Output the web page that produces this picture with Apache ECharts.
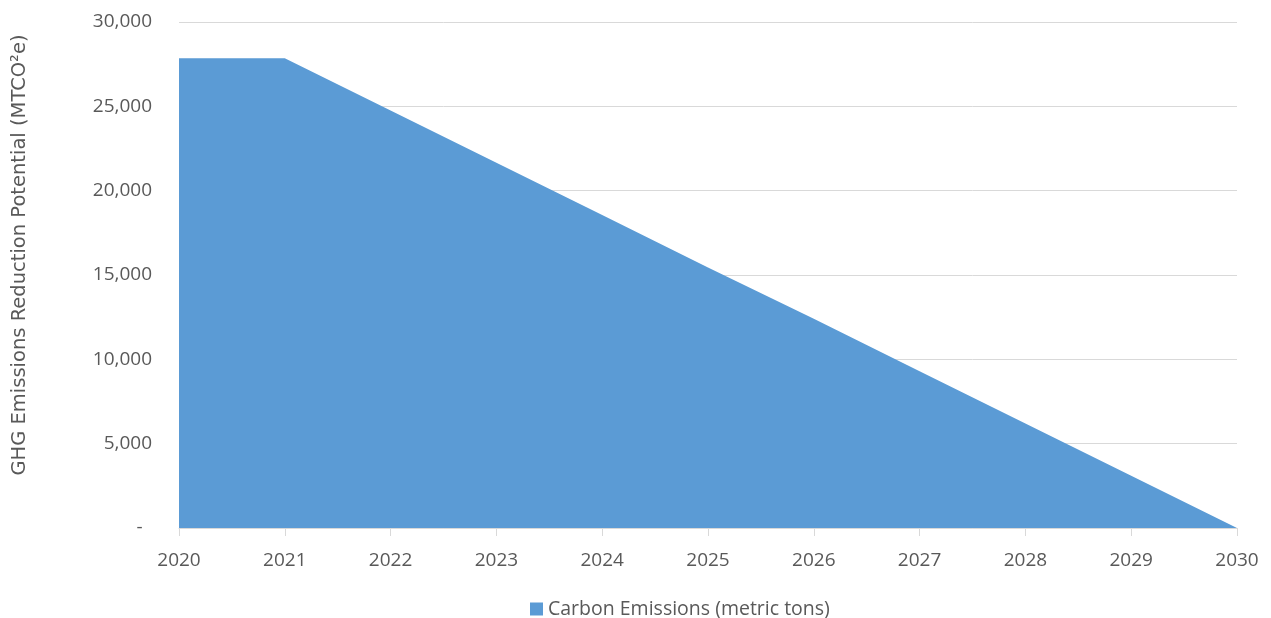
<!DOCTYPE html>
<html>
<head>
<meta charset="utf-8">
<script src="https://cdn.jsdelivr.net/npm/echarts@6/dist/echarts.min.js"></script>
<style>
html,body{margin:0;padding:0;background:#fff;}
#chart{width:1271px;height:618px;}
</style>
</head>
<body>
<div id="chart"></div>
<script>
const years = ['2020','2021','2022','2023','2024','2025','2026','2027','2028','2029','2030'];
const carbonEmissions = [27850, 27850, 24750, 21650, 18550, 15450, 12400, 9300, 6200, 3100, 0];
const seriesName = 'Carbon Emissions (metric tons)';
const yAxisTitle = 'GHG Emissions Reduction Potential (MTCO\u00B2e)';

const chart = echarts.init(document.getElementById('chart'), null, {renderer: 'canvas'});
chart.setOption({
  animation: false,
  backgroundColor: '#ffffff',
  grid: {left: 179, right: 34, top: 22, bottom: 90, containLabel: false},
  legend: {
    top: 594,
    left: 525,
    itemWidth: 13,
    itemHeight: 13,
    itemGap: 6,
    icon: 'rect',
    textStyle: {fontFamily: 'Open Sans', fontSize: 19.5, color: '#595959'},
    data: [seriesName]
  },
  graphic: [{
    type: 'text',
    x: 20,
    y: 255,
    rotation: Math.PI / 2,
    style: {
      text: yAxisTitle,
      fontFamily: 'DejaVu Sans',
      fontSize: 19.5,
      fill: '#595959',
      align: 'center',
      verticalAlign: 'middle'
    }
  }],
  xAxis: {
    type: 'category',
    data: years,
    boundaryGap: false,
    axisLine: {lineStyle: {color: '#d9d9d9', width: 1}},
    axisTick: {show: true, alignWithLabel: true, length: 8, lineStyle: {color: '#d9d9d9'}},
    axisLabel: {fontFamily: 'Open Sans', fontSize: 19, color: '#595959', margin: 23},
    splitLine: {show: false}
  },
  yAxis: {
    type: 'value',
    min: 0,
    max: 30000,
    interval: 5000,
    axisLine: {show: false},
    axisTick: {show: false},
    axisLabel: {
      fontFamily: 'Open Sans', fontSize: 19, color: '#595959', margin: 27,
      formatter: function (v) { return v === 0 ? '-\u2002' : v.toLocaleString('en-US'); }
    },
    splitLine: {lineStyle: {color: '#d9d9d9', width: 1}}
  },
  series: [{
    name: seriesName,
    type: 'line',
    data: carbonEmissions,
    symbol: 'none',
    lineStyle: {width: 0, color: '#5b9bd5'},
    itemStyle: {color: '#5b9bd5'},
    areaStyle: {color: '#5b9bd5', opacity: 1}
  }]
});
</script>
</body>
</html>
